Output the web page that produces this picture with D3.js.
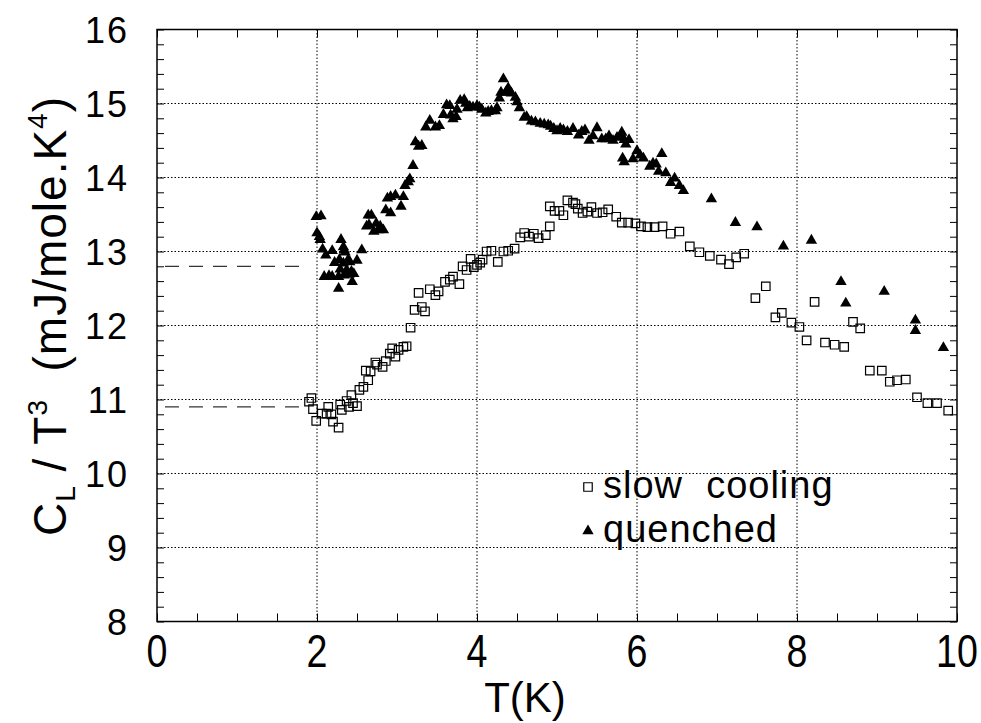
<!DOCTYPE html>
<html>
<head>
<meta charset="UTF-8">
<title>Cl/T3 vs T</title>
<script src="https://cdn.jsdelivr.net/npm/d3@7"></script>
<style>
  body { margin: 0; background: #fff; }
  text { font-family: "Liberation Sans", Arial, Helvetica, sans-serif; fill: #000; }
  .grid line { stroke: #000; stroke-width: 1; stroke-dasharray: 1.5 2; }
  .sq { fill: none; stroke: #000; stroke-width: 1.2; }
  .tri { fill: #000; }
</style>
</head>
<body>
<script>
// T (K), Cl/T^3
var slowT = [1.93,1.90,1.95,1.99,2.06,2.14,2.12,2.18,2.20,2.27,2.29,2.31,2.37,2.43,2.40,2.45,2.50,2.53,2.58,2.64,
  2.61,2.67,2.73,2.75,2.82,2.86,2.91,2.98,2.94,3.02,3.08,3.12,3.17,3.22,3.31,3.35,3.27,3.41,3.48,3.52,
  3.60,3.66,3.70,3.78,3.82,3.87,3.92,3.96,4.00,4.04,4.07,4.12,4.18,4.26,4.33,4.39,4.47,4.54,4.59,4.65,
  4.71,4.77,4.86,4.91,4.91,4.97,5.03,5.08,5.13,5.20,5.23,5.26,5.32,5.38,5.43,5.50,5.57,5.64,5.74,5.81,
  5.89,5.98,6.05,6.13,6.22,6.32,6.42,6.53,6.66,6.78,6.91,7.05,7.15,7.24,7.34,7.48,7.61,7.73,7.81,7.93,
  8.03,8.12,8.22,8.35,8.47,8.59,8.70,8.79,8.91,9.06,9.16,9.25,9.36,9.50,9.63,9.75,9.89];
var slowC = [11.02,10.97,10.87,10.71,10.81,10.90,10.81,10.80,10.70,10.62,10.93,10.86,10.98,11.06,10.90,10.95,10.91,11.13,11.17,11.26,
  11.39,11.38,11.50,11.47,11.44,11.52,11.62,11.58,11.69,11.67,11.71,11.72,11.97,12.21,12.25,12.19,12.44,12.49,12.41,12.46,
  12.59,12.62,12.66,12.56,12.80,12.75,12.90,12.79,12.82,12.85,12.89,13.00,13.01,12.86,13.00,13.01,13.04,13.19,13.25,13.20,
  13.24,13.18,13.22,13.34,13.61,13.55,13.55,13.49,13.69,13.66,13.64,13.58,13.52,13.54,13.60,13.52,13.53,13.57,13.47,13.39,
  13.39,13.38,13.34,13.33,13.33,13.34,13.24,13.27,13.07,12.99,12.94,12.89,12.83,12.92,12.97,12.37,12.53,12.11,12.17,12.04,
  11.98,11.80,12.32,11.77,11.74,11.71,12.05,11.96,11.39,11.39,11.24,11.26,11.27,11.03,10.95,10.95,10.85];

var quenchT = [1.99,2.05,2.00,2.03,2.04,2.07,2.11,2.19,2.30,2.33,2.34,2.35,2.56,2.22,2.28,2.33,2.39,2.41,2.50,2.29,
  2.37,2.43,2.46,2.09,2.15,2.19,2.27,2.34,2.40,2.27,2.44,2.64,2.68,2.86,2.92,3.05,2.62,2.65,2.74,2.79,
  2.71,2.77,2.83,2.88,2.92,2.98,3.08,3.10,3.14,3.16,3.20,3.23,3.27,3.31,3.36,3.41,3.48,3.53,3.58,3.62,
  3.66,3.67,3.70,3.74,3.75,3.79,3.84,3.86,3.88,3.91,3.95,4.00,4.03,4.06,4.11,4.14,4.18,4.23,4.25,4.28,
  4.30,4.33,4.36,4.39,4.43,4.48,4.50,4.53,4.59,4.62,4.68,4.73,4.79,4.84,4.89,4.92,4.96,5.00,5.04,5.08,
  5.13,5.20,5.27,5.31,5.35,5.40,5.45,5.50,5.56,5.61,5.65,5.70,5.75,5.79,5.81,5.84,5.86,5.90,5.82,5.84,
  5.95,6.00,6.04,6.08,6.16,6.20,6.24,6.27,6.31,6.36,6.42,6.47,6.53,6.58,6.93,7.23,7.50,7.83,8.18,8.55,
  8.61,9.09,9.48,9.48,9.83];
var quenchC = [13.47,13.48,13.25,13.20,13.16,13.03,12.95,13.01,13.16,13.06,13.02,12.99,13.02,12.85,12.89,12.84,12.89,12.86,12.88,12.76,
  12.75,12.73,12.70,12.66,12.67,12.66,12.66,12.68,12.69,12.50,12.59,13.49,13.49,13.56,13.52,13.61,13.34,13.36,13.38,13.34,
  13.27,13.29,13.29,13.72,13.74,13.76,13.74,13.89,13.94,13.98,14.16,14.48,14.42,14.43,14.68,14.77,14.68,14.70,14.85,14.98,
  14.97,14.84,14.79,14.82,14.92,15.04,15.05,15.00,14.94,14.96,14.95,14.97,14.95,14.92,14.87,14.89,14.90,14.90,14.94,15.07,
  15.15,15.33,15.15,15.21,15.14,15.08,15.02,14.94,14.81,14.82,14.76,14.75,14.73,14.72,14.71,14.69,14.66,14.63,14.66,14.64,
  14.62,14.66,14.57,14.62,14.64,14.50,14.56,14.67,14.52,14.52,14.56,14.50,14.54,14.56,14.61,14.51,14.45,14.51,14.26,14.21,
  14.25,14.36,14.30,14.26,14.15,14.19,14.18,14.08,14.32,14.06,13.93,13.99,13.89,13.82,13.71,13.39,13.33,13.07,13.15,12.59,
  12.30,12.46,12.07,11.93,11.70];

// dashed reference levels on the left
var refLevels = [12.8, 10.9];
var refRange = [0.1, 1.8];

var xTicks = [0, 2, 4, 6, 8, 10];
var yTicks = [8, 9, 10, 11, 12, 13, 14, 15, 16];
var legendNames = ["slow cooling", "quenched"];

var width = 981, height = 723;
var pL = 157, pR = 957, pT = 29.5, pB = 621.5;

var x = d3.scaleLinear().domain([0, 10]).range([pL, pR]);
var y = d3.scaleLinear().domain([8, 16]).range([pB, pT]);

var svg = d3.select("body").append("svg")
    .attr("width", width)
    .attr("height", height);

// grid
var grid = svg.append("g").attr("class", "grid");
grid.selectAll("line.gx")
    .data(xTicks.slice(1, -1))
  .enter().append("line")
    .attr("class", "gx")
    .attr("x1", function(d){ return x(d); }).attr("x2", function(d){ return x(d); })
    .attr("y1", pT).attr("y2", pB);
grid.selectAll("line.gy")
    .data(yTicks.slice(1, -1))
  .enter().append("line")
    .attr("class", "gy")
    .attr("y1", function(d){ return y(d); }).attr("y2", function(d){ return y(d); })
    .attr("x1", pL).attr("x2", pR);

// inward ticks on all four sides
var xMinor = d3.range(0, 10.01, 0.5);
var yMinor = d3.range(8, 16.01, 0.2);
svg.append("g").attr("transform", "translate(0," + pB + ")")
    .call(d3.axisTop(x).tickValues(xMinor).tickSize(8).tickFormat(""));
svg.append("g").attr("transform", "translate(0," + pT + ")")
    .call(d3.axisBottom(x).tickValues(xMinor).tickSize(8).tickFormat(""));
svg.append("g").attr("transform", "translate(" + pL + ",0)")
    .call(d3.axisRight(y).tickValues(yMinor).tickSize(7).tickFormat(""));
svg.append("g").attr("transform", "translate(" + pR + ",0)")
    .call(d3.axisLeft(y).tickValues(yMinor).tickSize(7).tickFormat(""));
svg.selectAll(".domain").remove();
svg.selectAll(".tick line").attr("stroke", "#000").attr("stroke-width", 1);

// frame
svg.append("rect")
    .attr("x", pL).attr("y", pT)
    .attr("width", pR - pL).attr("height", pB - pT)
    .attr("fill", "none").attr("stroke", "#000").attr("stroke-width", 1.5);

// tick labels (tall, narrow digits on the x axis)
svg.append("g").selectAll("text")
    .data(xTicks)
  .enter().append("text")
    .attr("transform", function(d){ return "translate(" + x(d) + ",667) scale(0.8,1)"; })
    .attr("text-anchor", "middle")
    .style("font-size", "47px")
    .text(function(d){ return d; });

svg.append("g").selectAll("text")
    .data(yTicks)
  .enter().append("text")
    .attr("x", 129)
    .attr("y", function(d){ return y(d) + 13; })
    .attr("text-anchor", "end")
    .style("font-size", "36px")
    .style("letter-spacing", "2px")
    .text(function(d){ return d; });

// axis titles
svg.append("text")
    .attr("x", 525).attr("y", 712)
    .attr("text-anchor", "middle")
    .style("font-size", "42px")
    .text("T(K)");

var yl = svg.append("text")
    .attr("transform", "translate(66,316) rotate(-90)")
    .attr("text-anchor", "middle")
    .attr("xml:space", "preserve")
    .style("font-size", "46px")
    .style("letter-spacing", "1px");
yl.append("tspan").text("C");
yl.append("tspan").attr("dy", 9).style("font-size", "28px").text("L");
yl.append("tspan").attr("dy", -9).text(" / T");
yl.append("tspan").attr("dy", -19).style("font-size", "28px").text("3");
yl.append("tspan").attr("dy", 19).text("  (mJ/mole.K");
yl.append("tspan").attr("dy", -19).style("font-size", "28px").text("4");
yl.append("tspan").attr("dy", 19).text(")");

// dashed reference lines
svg.append("g").selectAll("line")
    .data(refLevels)
  .enter().append("line")
    .attr("x1", x(refRange[0])).attr("x2", x(refRange[1]))
    .attr("y1", function(d){ return y(d); }).attr("y2", function(d){ return y(d); })
    .attr("stroke", "#000").attr("stroke-width", 1)
    .attr("stroke-dasharray", "14 10");

// markers
var sqSym = d3.symbol().type(d3.symbolSquare).size(72);
var triSym = d3.symbol().type(d3.symbolTriangle).size(56);

svg.append("g").selectAll("path")
    .data(d3.range(slowT.length))
  .enter().append("path")
    .attr("class", "sq")
    .attr("d", sqSym)
    .attr("transform", function(i){ return "translate(" + x(slowT[i]) + "," + y(slowC[i]) + ")"; });

svg.append("g").selectAll("path")
    .data(d3.range(quenchT.length))
  .enter().append("path")
    .attr("class", "tri")
    .attr("d", triSym)
    .attr("transform", function(i){ return "translate(" + x(quenchT[i]) + "," + y(quenchC[i]) + ")"; });

// legend
var lg = svg.append("g");
lg.append("path").attr("class", "sq").attr("d", sqSym).attr("transform", "translate(588,487)");
lg.append("path").attr("class", "tri").attr("d", triSym).attr("transform", "translate(588,531)");
lg.selectAll("text")
    .data(legendNames)
  .enter().append("text")
    .attr("x", 603)
    .attr("y", function(d, i){ return 498 + i * 44; })
    .style("font-size", "38px")
    .style("letter-spacing", "1px")
    .attr("xml:space", "preserve")
    .text(function(d){ return d.replace(" ", "  "); });
</script>
</body>
</html>
